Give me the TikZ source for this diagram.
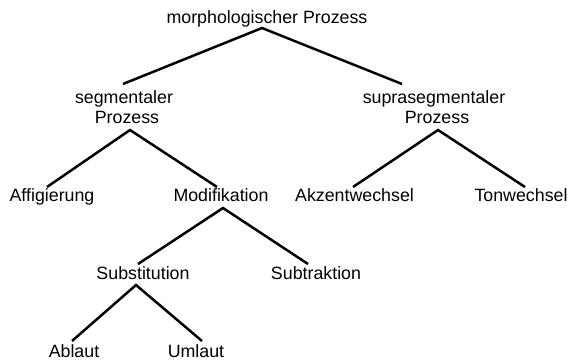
\documentclass[tikz,border=0pt]{standalone}
\usepackage{fontspec}
\setmainfont{Liberation Sans}
\begin{document}
\begin{tikzpicture}[x=1pt,y=-1pt,
  lbl/.style={anchor=base,inner sep=0pt,font=\fontsize{17.8}{20}\selectfont},
  edge/.style={line width=2.5pt,line cap=butt,line join=miter}]
\useasboundingbox (0,0) rectangle (569,361);
% labels
\node[lbl] (mp) at (267,24) {morphologischer Prozess};
\node[lbl] (seg1) at (124,103) {segmentaler};
\node[lbl] (seg2) at (127,123) {Prozess};
\node[lbl] (sup1) at (434,103) {suprasegmentaler};
\node[lbl] (sup2) at (437,123) {Prozess};
\node[lbl] (aff) at (52,201) {Affigierung};
\node[lbl] (mod) at (221,201) {Modifikation};
\node[lbl] (akz) at (354.5,201) {Akzentwechsel};
\node[lbl] (ton) at (521,201) {Tonwechsel};
\node[lbl] (sub) at (143,279) {Substitution};
\node[lbl] (subtr) at (316,279) {Subtraktion};
\node[lbl] (abl) at (74,357) {Ablaut};
\node[lbl] (uml) at (196,357) {Umlaut};
% line end points
\coordinate (mpA) at (262,28);
\coordinate (segT) at (123,84);
\coordinate (supT) at (402,84);
\coordinate (segA) at (130,130);
\coordinate (affT) at (47,187);
\coordinate (modT) at (217,187);
\coordinate (supA) at (438,130);
\coordinate (akzT) at (353,187);
\coordinate (tonT) at (525,187);
\coordinate (modA) at (223,208);
\coordinate (subT) at (138,264);
\coordinate (subtrT) at (308,264);
\coordinate (subA) at (136,285);
\coordinate (ablT) at (72,341);
\coordinate (umlT) at (202,341);
% connectors
\draw[edge] (segT) -- (mpA) -- (supT);
\draw[edge] (affT) -- (segA) -- (modT);
\draw[edge] (akzT) -- (supA) -- (tonT);
\draw[edge] (subT) -- (modA) -- (subtrT);
\draw[edge] (ablT) -- (subA) -- (umlT);
\end{tikzpicture}
\end{document}
